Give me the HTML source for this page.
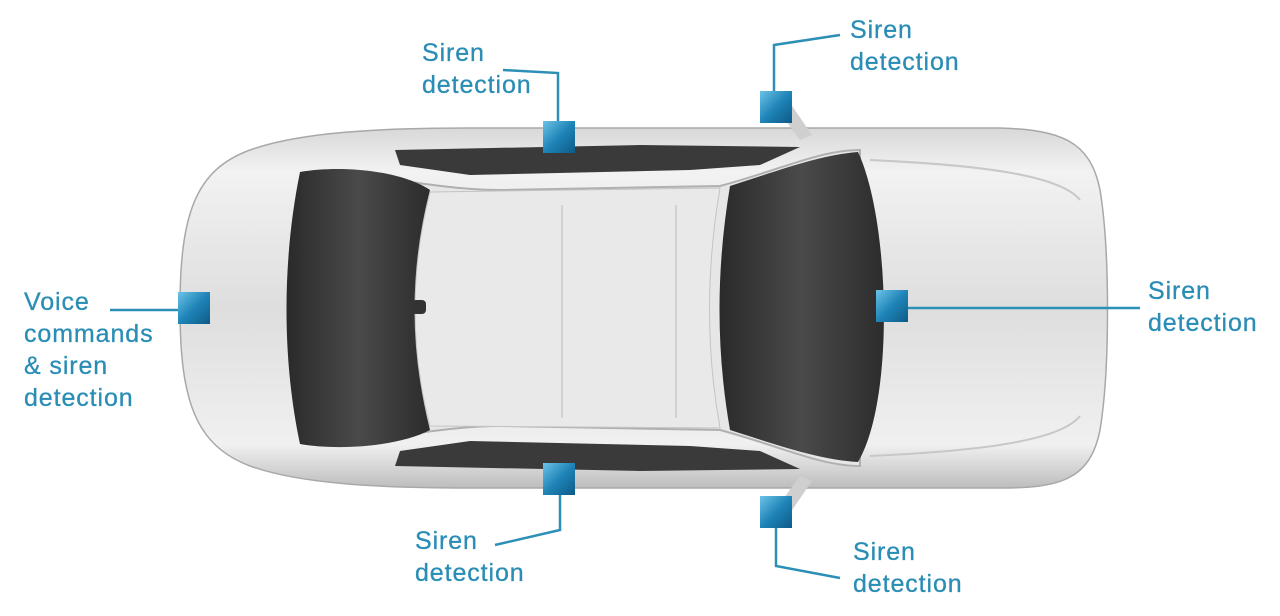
<!DOCTYPE html>
<html><head><meta charset="utf-8"><style>
html,body{margin:0;padding:0;background:#fff;width:1280px;height:616px;overflow:hidden}
.t{position:absolute;font-family:"Liberation Sans",sans-serif;font-size:25px;line-height:32px;color:#2a8db5;letter-spacing:0.9px;-webkit-text-stroke:0.3px #2a8db5}
</style></head><body>
<svg width="1280" height="616" style="position:absolute;left:0;top:0">
<defs>
<linearGradient id="body" x1="0" y1="0" x2="0" y2="1">
<stop offset="0" stop-color="#d8d8d8"/><stop offset="0.12" stop-color="#f2f2f2"/><stop offset="0.5" stop-color="#dedede"/><stop offset="0.88" stop-color="#f0f0f0"/><stop offset="1" stop-color="#bdbdbd"/>
</linearGradient>
<linearGradient id="glass" x1="0" y1="0" x2="1" y2="0">
<stop offset="0" stop-color="#2a2a2a"/><stop offset="0.5" stop-color="#4a4a4a"/><stop offset="1" stop-color="#2c2c2c"/>
</linearGradient>
<linearGradient id="sq" x1="0" y1="0" x2="1" y2="1">
<stop offset="0" stop-color="#6cc3e6"/><stop offset="0.5" stop-color="#1f84b8"/><stop offset="1" stop-color="#0d5a86"/>
</linearGradient>
</defs>
<path d="M250,150 C300,132 380,128 470,128 L1000,128 C1060,130 1090,140 1100,190 C1110,250 1110,370 1100,430 C1090,480 1060,488 1000,488 L470,488 C380,488 300,484 250,466 C195,445 180,400 180,308 C180,215 195,170 250,150 Z" fill="url(#body)" stroke="#a8a8a8" stroke-width="1.5"/>
<path d="M395,150 L640,145 L800,147 L760,165 L690,170 L470,175 L400,165 Z" fill="#3a3a3a"/>
<path d="M395,466 L640,471 L800,469 L760,451 L690,446 L470,441 L400,451 Z" fill="#3a3a3a"/>
<path d="M300,180 C380,170 430,190 500,190 L720,186 C780,170 820,150 860,150 L860,466 C820,466 780,446 720,430 L500,426 C430,426 380,446 300,436 Z" fill="#e6e6e6" stroke="#b0b0b0" stroke-width="2"/>
<path d="M300,172 C340,165 400,170 430,190 C410,270 410,350 430,430 C400,446 340,451 300,444 C282,360 282,260 300,172 Z" fill="url(#glass)"/>
<path d="M730,186 C780,170 820,155 858,152 C890,220 895,400 858,462 C820,460 780,446 730,430 C716,350 716,270 730,186 Z" fill="url(#glass)"/>
<path d="M430,192 L720,188 C706,270 706,350 720,428 L430,426 C410,350 410,270 430,192 Z" fill="#e9e9e9" stroke="#c4c4c4"/>
<line x1="562" y1="205" x2="562" y2="418" stroke="#bbb"/>
<line x1="676" y1="205" x2="676" y2="418" stroke="#bbb"/>
<rect x="412" y="300" width="14" height="14" rx="4" fill="#333"/>
<path d="M870,160 C980,165 1060,175 1080,200 M870,456 C980,451 1060,441 1080,416" stroke="#c8c8c8" fill="none" stroke-width="2"/>
<path d="M788,100 L812,135 L800,140 L778,110 Z" fill="#cfcfcf"/>
<path d="M788,516 L812,481 L800,476 L778,506 Z" fill="#cfcfcf"/>
<g stroke="#2b8fb6" stroke-width="2.5" fill="none">
<polyline points="503,70 558,73 558,122"/>
<polyline points="840,35 774,45 774,93"/>
<line x1="110" y1="310" x2="180" y2="310"/>
<line x1="908" y1="308" x2="1140" y2="308"/>
<polyline points="560,495 560,530 495,545"/>
<polyline points="776,527 776,566 840,578"/>
</g>
<g fill="url(#sq)">
<rect x="543" y="121" width="32" height="32"/>
<rect x="760" y="91" width="32" height="32"/>
<rect x="178" y="292" width="32" height="32"/>
<rect x="876" y="290" width="32" height="32"/>
<rect x="543" y="463" width="32" height="32"/>
<rect x="760" y="496" width="32" height="32"/>
</g>
</svg>
<div class="t" style="left:422px;top:37px">Siren<br>detection</div>
<div class="t" style="left:850px;top:14px">Siren<br>detection</div>
<div class="t" style="left:24px;top:286px">Voice<br>commands<br>&amp; siren<br>detection</div>
<div class="t" style="left:1148px;top:275px">Siren<br>detection</div>
<div class="t" style="left:415px;top:525px">Siren<br>detection</div>
<div class="t" style="left:853px;top:536px">Siren<br>detection</div>
</body></html>
